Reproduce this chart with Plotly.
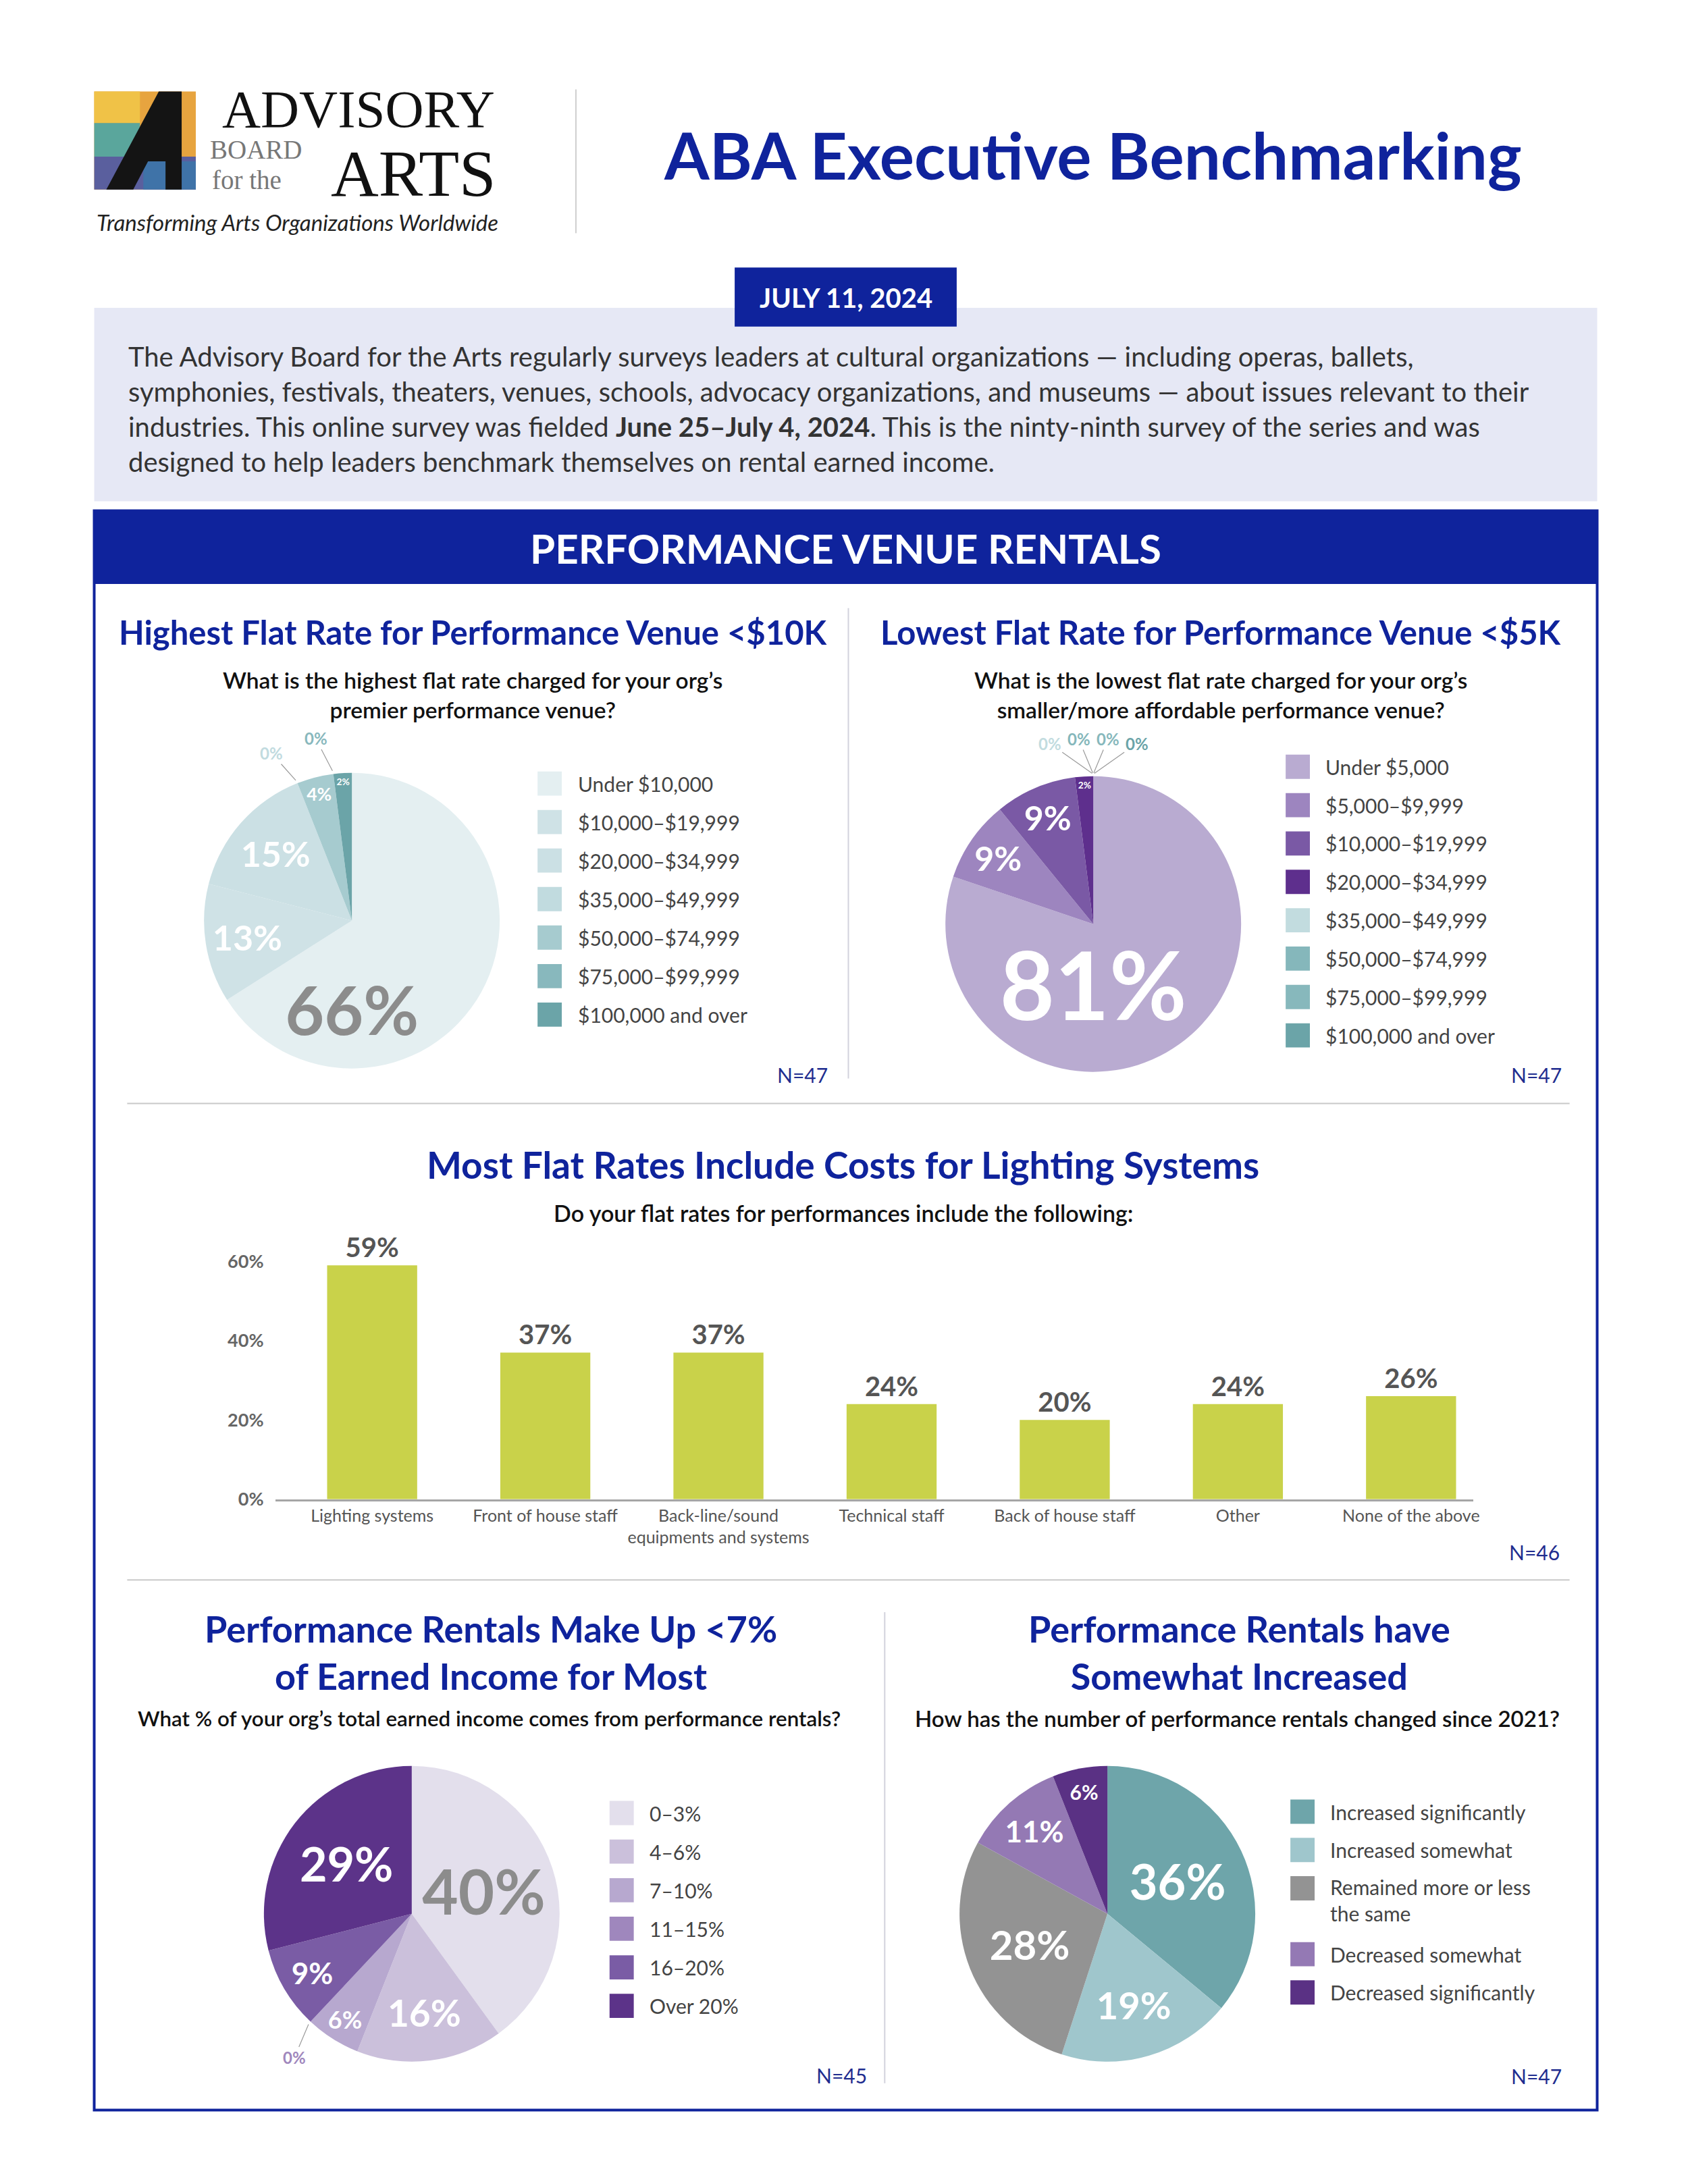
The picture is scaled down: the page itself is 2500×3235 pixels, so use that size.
import numpy as np
import plotly.graph_objects as go

# canvas size (px) of the reference page
W, H = 2500, 3235
FONT = "Lato"
BLUE = "#0f239c"


def X(px):
    return px / W


def Y(py):
    return 1 - py / H


# ---- data -------------------------------------------------------------
hi_labels = ["Under $10,000", "$10,000–$19,999", "$20,000–$34,999", "$35,000–$49,999",
             "$50,000–$74,999", "$75,000–$99,999", "$100,000 and over"]
hi_values = [66, 13, 15, 0, 4, 0, 2]
hi_colors = ["#e4eff1", "#cfe2e6", "#cbe0e4", "#c1dbdf", "#a6cbcf", "#88b8bd", "#6ba4a8"]

lo_labels = ["Under $5,000", "$5,000–$9,999", "$10,000–$19,999", "$20,000–$34,999",
             "$35,000–$49,999", "$50,000–$74,999", "$75,000–$99,999", "$100,000 and over"]
lo_values = [81, 9, 9, 2, 0, 0, 0, 0]
lo_colors = ["#b9abd1", "#9d85bf", "#7a59a5", "#5e2f8d", "#c2dcdf", "#85b7bb", "#87b8bc", "#6ba4a8"]

bar_cats = ["Lighting systems", "Front of house staff", "Back-line/sound<br>equipments and systems",
            "Technical staff", "Back of house staff", "Other", "None of the above"]
bar_values = [59, 37, 37, 24, 20, 24, 26]

inc_labels = ["0–3%", "4–6%", "7–10%", "11–15%", "16–20%", "Over 20%"]
inc_values = [40, 16, 6, 0, 9, 29]
inc_colors = ["#e3dfec", "#cbc0db", "#b7a8cf", "#9f87bd", "#7a5ca5", "#5c3389"]

chg_labels = ["Increased significantly", "Increased somewhat", "Remained more or less<br>the same",
              "Decreased somewhat", "Decreased significantly"]
chg_values = [36, 19, 28, 11, 6]
chg_colors = ["#6ea5aa", "#9fc6cc", "#939393", "#9479b4", "#5a3184"]

intro_lines = [
    "The Advisory Board for the Arts regularly surveys leaders at cultural organizations — including operas, ballets,",
    "symphonies, festivals, theaters, venues, schools, advocacy organizations, and museums — about issues relevant to their",
    "industries. This online survey was fielded <b>June 25–July 4, 2024</b>. This is the ninty-ninth survey of the series and was",
    "designed to help leaders benchmark themselves on rental earned income.",
]

fig = go.Figure()
shapes = []
anns = []


def text(x, y, s, size, color="#222", xanchor="center", yanchor="middle", align="center",
         family=FONT, weight="normal", **kw):
    anns.append(dict(x=X(x), y=Y(y), xref="paper", yref="paper", text=s, showarrow=False,
                     xanchor=xanchor, yanchor=yanchor, align=align,
                     font=dict(family=family, size=size, color=color, weight=weight), **kw))


def rect(x0, y0, x1, y1, fill=None, line=None, lw=0):
    shapes.append(dict(type="rect", xref="paper", yref="paper", x0=X(x0), x1=X(x1), y0=Y(y1), y1=Y(y0),
                       fillcolor=fill or "rgba(0,0,0,0)", line=dict(color=line or "rgba(0,0,0,0)", width=lw),
                       layer="below" if fill else "above"))


def poly(pts, fill):
    path = "M " + " L ".join(f"{X(a)},{Y(b)}" for a, b in pts) + " Z"
    shapes.append(dict(type="path", xref="paper", yref="paper", path=path, fillcolor=fill,
                       line=dict(width=0), layer="below"))


def hline(x0, x1, y, color="#c9c9c9", w=2):
    shapes.append(dict(type="line", xref="paper", yref="paper", x0=X(x0), x1=X(x1), y0=Y(y), y1=Y(y),
                       line=dict(color=color, width=w)))


def vline(x, y0, y1, color="#d2d2dc", w=2):
    shapes.append(dict(type="line", xref="paper", yref="paper", x0=X(x), x1=X(x), y0=Y(y0), y1=Y(y1),
                       line=dict(color=color, width=w)))


def pie(values, colors, cx, cy, r, sizes, tcolors):
    fig.add_trace(go.Pie(
        values=values, text=[f"{v}%" if v > 0 else "" for v in values], textinfo="text",
        sort=False, direction="clockwise", rotation=0,
        marker=dict(colors=colors, line=dict(width=0)),
        textposition="inside", insidetextorientation="horizontal",
        textfont=dict(family=FONT, size=sizes, color=tcolors, weight="bold"),
        domain=dict(x=[X(cx - r), X(cx + r)], y=[Y(cy + r), Y(cy - r)]),
        showlegend=False, hoverinfo="skip"))
    # small "0%" callouts for empty slices
    total = sum(values)
    groups = {}
    cum = 0
    for v, c in zip(values, colors):
        if v == 0:
            groups.setdefault(cum, []).append(c)
        cum += v
    for cumv, cols in groups.items():
        base = 360 * cumv / total
        n = len(cols)
        offs = np.linspace(-4.5 * (n - 1), 4.5 * (n - 1), n) if n > 1 else [-4]
        tx = cx + (r + 3) * np.sin(np.radians(base))
        ty = cy - (r + 3) * np.cos(np.radians(base))
        for off, c in zip(offs, cols):
            th = np.radians(base + off)
            lx = cx + (r + 56) * np.sin(th)
            ly = cy - (r + 56) * np.cos(th)
            anns.append(dict(x=X(tx), y=Y(ty), xref="paper", yref="paper", text="<b>0%</b>",
                             showarrow=True, arrowhead=0, arrowwidth=1.2, arrowcolor="#9a9a9a",
                             ax=lx - tx, ay=ly - ty, standoff=2,
                             font=dict(family=FONT, size=24, color=c)))


def legend(labels, colors, x0, yc, step, tx, size=30):
    for lab, col in zip(labels, colors):
        rect(x0, yc - 18, x0 + 36, yc + 18, fill=col)
        nl = lab.count("<br>")
        if nl:
            text(tx, yc - 22, lab, size, "#444", xanchor="left", yanchor="top", align="left")
        else:
            text(tx, yc, lab, size, "#444", xanchor="left")
        yc += step + 41 * nl


# ---- header ------------------------------------------------------------
rect(132, 128, 283, 274, fill="#e7a43f")
rect(132, 128, 200, 175, fill="#f0c247")
rect(132, 175, 200, 225, fill="#5aa69c")
rect(132, 225, 283, 274, fill="#5a5f9e")
rect(205, 232, 283, 274, fill="#3f73a8")
poly([(150, 274), (228, 128), (262, 128), (262, 274), (238, 274), (238, 232), (212, 232), (190, 274)], "#141414")
text(730, 154, "ADVISORY", 79, "#111", xanchor="right", family="Liberation Serif")
text(302, 214, "BOARD", 39, "#777", xanchor="left", family="Liberation Serif")
text(305, 260, "for the", 39, "#777", xanchor="left", family="Liberation Serif")
text(732, 250, "ARTS", 98, "#111", xanchor="right", family="Liberation Serif")
text(434, 322, "<i>Transforming Arts Organizations Worldwide</i>", 33, "#222")
vline(848, 125, 339, color="#cfcfcf")
text(1616, 222, "<b>ABA Executive Benchmarking</b>", 96, BLUE)

rect(132, 450, 2366, 738, fill="#e6e8f5")
rect(1084, 390, 1414, 478, fill=BLUE)
text(1249, 435, "<b>JULY 11, 2024</b>", 40, "white")
for i, ln in enumerate(intro_lines):
    text(181, 522 + 52.5 * i, ln, 40, "#333", xanchor="left")

rect(132, 752, 2366, 861, fill=BLUE)
rect(132, 752, 2366, 3132, line=BLUE, lw=4)
text(1249, 808, "<b>PERFORMANCE VENUE RENTALS</b>", 60, "white")

# ---- top row: two pies ---------------------------------------------
text(695, 932, "<b>Highest Flat Rate for Performance Venue <$10K</b>", 49, BLUE)
text(695, 1026, "What is the highest flat rate charged for your org’s<br>premier performance venue?", 33.5,
     "#111", weight=600)
pie(hi_values, hi_colors, 515, 1362, 220,
    [100, 52, 52, 20, 30, 20, 18], ["#8c8c8c", "white", "white", "white", "white", "white", "white"])
legend(hi_labels, hi_colors, 791, 1158, 57.3, 849)
text(1224, 1591, "N=47", 30, "#1f2d8f", xanchor="right")

vline(1253, 897, 1597)

text(1807, 932, "<b>Lowest Flat Rate for Performance Venue <$5K</b>", 49, BLUE)
text(1807, 1026, "What is the lowest flat rate charged for your org’s<br>smaller/more affordable performance venue?", 33.5,
     "#111", weight=600)
pie(lo_values, lo_colors, 1617, 1367, 220,
    [145, 50, 50, 18, 20, 20, 20, 20], ["white"] * 8)
legend(lo_labels, lo_colors, 1903, 1133, 57.1, 1960)
text(2315, 1591, "N=47", 30, "#1f2d8f", xanchor="right")

hline(181, 2325, 1634)

# ---- bar chart ----------------------------------------------------------
text(1245, 1725, "<b>Most Flat Rates Include Costs for Lighting Systems</b>", 55, BLUE)
text(1245, 1797, "Do your flat rates for performances include the following:", 34, "#111", weight=600)
fig.add_trace(go.Bar(
    x=bar_cats, y=[v / 100 for v in bar_values], width=0.52,
    marker=dict(color="#c9d24a", line=dict(width=0)),
    text=[f"{v}%" for v in bar_values], textposition="outside", cliponaxis=False,
    constraintext="none", textfont=dict(family=FONT, size=40, color="#555", weight="bold"),
    showlegend=False, hoverinfo="skip", xaxis="x", yaxis="y"))
text(2312, 2302, "N=46", 30, "#1f2d8f", xanchor="right")

hline(181, 2325, 2343)

# ---- bottom row: two pies -----------------------------------------------
text(722, 2451, "<b>Performance Rentals Make Up <7%<br>of Earned Income for Most</b>", 54, BLUE)
text(719, 2549, "What % of your org’s total earned income comes from performance rentals?", 31.3,
     "#111", weight=600)
pie(inc_values, inc_colors, 604, 2840, 220,
    [95, 55, 36, 20, 44, 70], ["#8c8c8c", "white", "white", "white", "white", "white"])
legend(inc_labels, inc_colors, 898, 2690, 57.4, 955)
text(1283, 3080, "N=45", 30, "#1f2d8f", xanchor="right")

vline(1307, 2391, 3092)

text(1834, 2451, "<b>Performance Rentals have<br>Somewhat Increased</b>", 54, BLUE)
text(1831, 2549, "How has the number of performance rentals changed since 2021?", 33, "#111", weight=600)
pie(chg_values, chg_colors, 1638, 2840, 220,
    [72, 56, 60, 44, 30], ["white"] * 5)
legend(chg_labels, chg_colors, 1910, 2688, 57, 1967)
text(2315, 3081, "N=47", 30, "#1f2d8f", xanchor="right")

fig.update_layout(
    width=W, height=H, margin=dict(l=0, r=0, t=0, b=0),
    paper_bgcolor="white", plot_bgcolor="white",
    font=dict(family=FONT),
    shapes=shapes, annotations=anns,
    xaxis=dict(domain=[X(401), X(2182)], range=[-0.56, 6.36], showline=True, linecolor="#a6a6a6",
               linewidth=3, ticks="", showgrid=False, zeroline=False, fixedrange=True,
               tickfont=dict(family=FONT, size=25, color="#555")),
    yaxis=dict(domain=[Y(2223), Y(1839.5)], range=[0, 0.65], tickvals=[0, 0.2, 0.4, 0.6],
               ticktext=["0%", "20%", "40%", "60%"], showgrid=False, zeroline=False, showline=False,
               ticklabelstandoff=16, fixedrange=True,
               tickfont=dict(family=FONT, size=27, color="#666", weight="bold")),
)

fig.write_html("out.html")
